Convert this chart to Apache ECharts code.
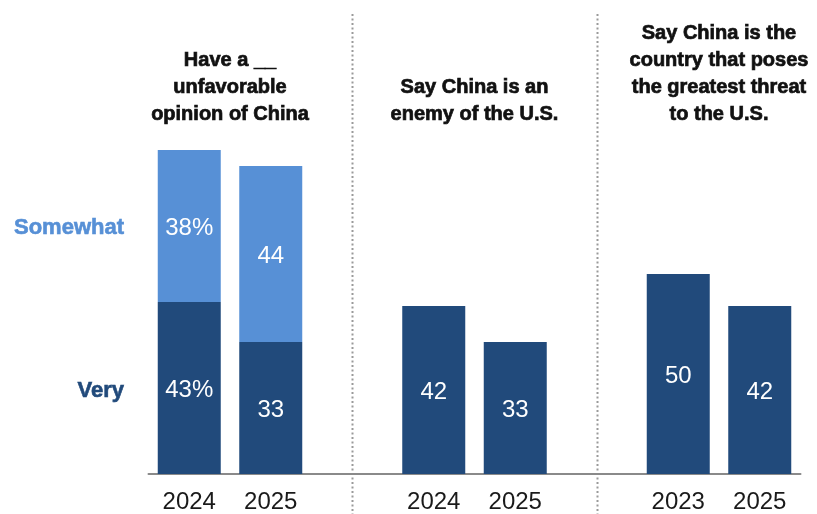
<!DOCTYPE html>
<html><head><meta charset="utf-8">
<script src="https://cdn.jsdelivr.net/npm/echarts@6/dist/echarts.min.js"></script>
<style>html,body{margin:0;padding:0;background:#fff}#c{width:817px;height:514px}</style>
</head><body><div id="c"></div>
<script>
// ---- data ----
const years = ['2024','2025','','2024','2025','','2023','2025'];
const very = [43,33,null,42,33,null,50,42];
const somewhat = [38,44,null,null,null,null,null,null];
const panelTitles = [
  'Have a __\nunfavorable\nopinion of China',
  'Say China is an\nenemy of the U.S.',
  'Say China is the\ncountry that poses\nthe greatest threat\nto the U.S.'
];
const panelCats = [[0,1],[3,4],[6,7]];
const dividerCats = [2,5];
const seriesNames = ['Very','Somewhat'];
const pctIndex = 0;

// ---- styling ----
const DARK = '#214A7B', LIGHT = '#5790D6';
const FONT = '"Liberation Sans", Arial, sans-serif';
const chart = echarts.init(document.getElementById('c'), null, {renderer:'canvas'});
const labelFmt = p => p.value == null ? '' : (p.dataIndex === pctIndex ? p.value + '%' : String(p.value));
const lbl = {show:true, position:'inside', offset:[0,2], color:'#fff', fontSize:24, fontFamily:FONT, formatter:labelFmt};

chart.setOption({
  animation:false,
  grid:{left:148.5, right:16.5, top:14, bottom:39.5},
  xAxis:{
    type:'category', data:years.map((y,i)=>'c'+i),
    axisLine:{lineStyle:{color:'#8a8a8a', width:2}},
    axisTick:{show:false},
    axisLabel:{interval:0, margin:16, fontSize:24, color:'#1a1a1a', fontFamily:FONT, formatter:(v,i)=>years[i]}
  },
  yAxis:{type:'value', min:0, max:115, show:false},
  series:[
    {name:seriesNames[0], type:'bar', stack:'t', barWidth:63, data:very, itemStyle:{color:DARK}, label:lbl},
    {name:seriesNames[1], type:'bar', stack:'t', barWidth:63, data:somewhat, itemStyle:{color:LIGHT}, label:lbl}
  ]
});

const px = i => chart.convertToPixel({xAxisIndex:0}, i);
const py = v => chart.convertToPixel({yAxisIndex:0}, v);
const g = [];
dividerCats.forEach(c => {
  const x = Math.round(px(c)) + 0.5;
  g.push({type:'line', shape:{x1:x, y1:14, x2:x, y2:514}, style:{stroke:'#9a9a9a', lineWidth:2, lineDash:[2,2.5]}, z:0});
});
panelTitles.forEach((t, k) => {
  const cx = (px(panelCats[k][0]) + px(panelCats[k][1])) / 2;
  g.push({type:'text', x:cx, y:128, style:{text:t, fill:'#111', stroke:'#111', lineWidth:0.7, fontSize:20, fontWeight:'bold', fontFamily:FONT,
    lineHeight:27, align:'center', verticalAlign:'bottom', textAlign:'center', textVerticalAlign:'bottom'}});
});
g.push({type:'text', x:124, y:py(very[0] + somewhat[0]/2) + 2, style:{text:seriesNames[1], fill:LIGHT, stroke:LIGHT, lineWidth:0.6, fontSize:22, fontWeight:'bold', fontFamily:FONT,
  align:'right', verticalAlign:'middle', textAlign:'right', textVerticalAlign:'middle'}});
g.push({type:'text', x:124, y:py(very[0]/2) + 3, style:{text:seriesNames[0], fill:DARK, stroke:DARK, lineWidth:0.6, fontSize:22, fontWeight:'bold', fontFamily:FONT,
  align:'right', verticalAlign:'middle', textAlign:'right', textVerticalAlign:'middle'}});
chart.setOption({graphic:g});
</script>
</body></html>
